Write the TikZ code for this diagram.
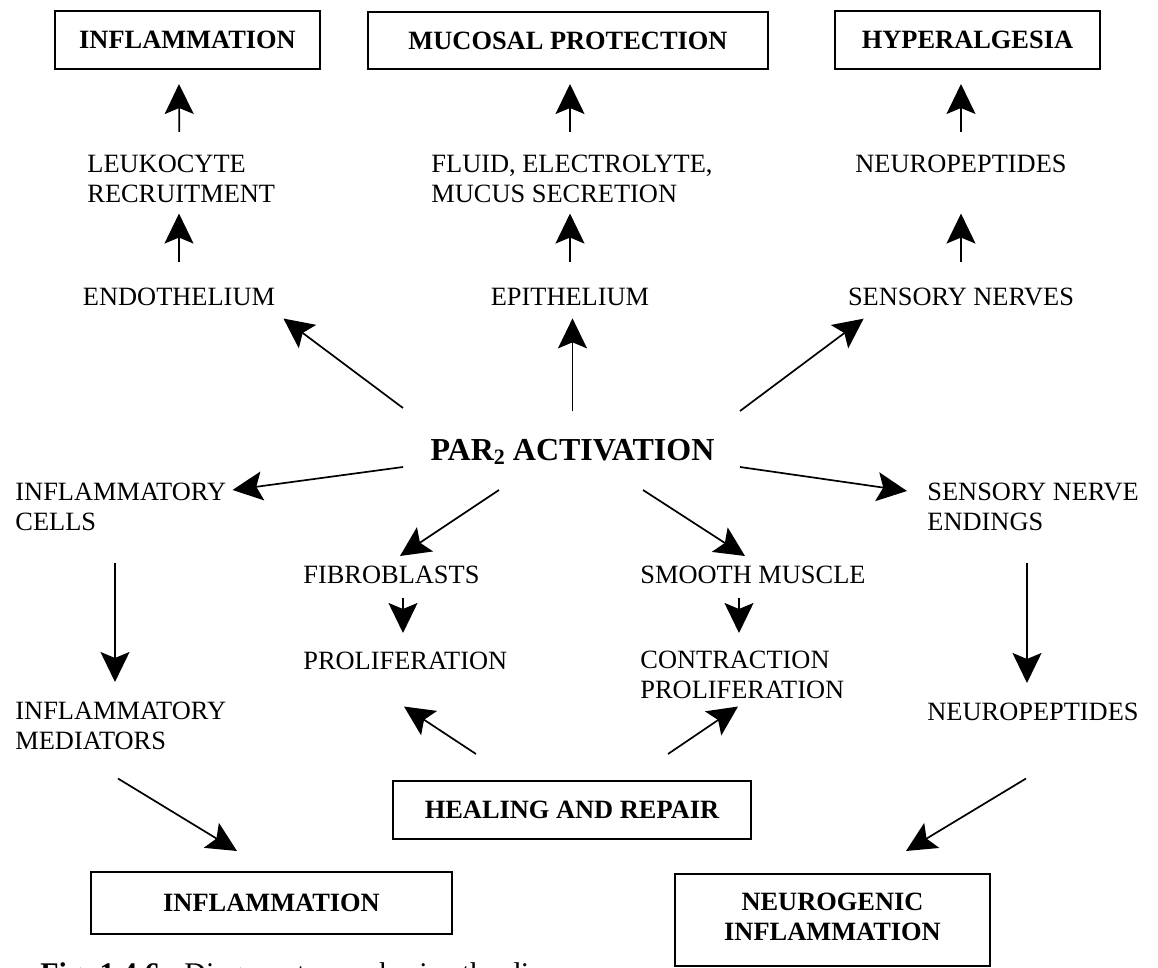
\documentclass[tikz,border=0pt]{standalone}
\usepackage{fontspec}
\setmainfont{Liberation Serif}
\usetikzlibrary{arrows.meta}
\newcommand\fsn{\fontsize{13.2pt}{15pt}\selectfont}
\newcommand\fsp{\fontsize{16pt}{18pt}\selectfont\bfseries}
\newcommand\fsc{\fontsize{15pt}{17pt}\selectfont}
\tikzset{
  lbl/.style={font=\fsn, inner sep=0pt, align=left},
  box/.style={draw, line width=1pt, font=\fsn\bfseries, inner sep=0pt, align=center},
  arr/.style={line width=0.85pt, -{Stealth[length=15pt,width=14.5pt,inset=3pt]}},
}
\begin{document}
\begin{tikzpicture}[x=0.5pt,y=-0.5pt]
\useasboundingbox (0,0) rectangle (1158,968);
\clip (0,0) rectangle (1158,968);
\fill[white] (0,0) rectangle (1158,968);

% top boxes
\node[box, minimum width=132.5pt, minimum height=29pt] (inflTop) at (187.5,40) {INFLAMMATION};
\node[box, minimum width=200pt, minimum height=28.5pt] (mucTop) at (568,40.5) {MUCOSAL PROTECTION};
\node[box, minimum width=132.5pt, minimum height=29pt] (hypTop) at (967.5,40) {HYPERALGESIA};

% second row
\node[lbl, anchor=north west] (leuk) at (87,155) {LEUKOCYTE\\RECRUITMENT};
\node[lbl, anchor=north] (fluid) at (572,155) {FLUID, ELECTROLYTE,\\MUCUS SECRETION};
\node[lbl, anchor=north] (neuroTop) at (961,155) {NEUROPEPTIDES};

% third row
\node[lbl, anchor=north] (endo) at (179,288) {ENDOTHELIUM};
\node[lbl, anchor=north] (epi) at (570,288) {EPITHELIUM};
\node[lbl, anchor=north] (sens) at (961,288) {SENSORY NERVES};

% centre
\node[lbl, font=\fsp, anchor=north] (par) at (572.5,439) {PAR\raisebox{-2pt}{\fontsize{11pt}{11pt}\selectfont 2} ACTIVATION};

% middle rows
\node[lbl, anchor=north west] (inflCells) at (15,483) {INFLAMMATORY\\CELLS};
\node[lbl, anchor=north west] (sensEnd) at (927,483) {SENSORY NERVE\\ENDINGS};
\node[lbl, anchor=north west] (fib) at (303,566) {FIBROBLASTS};
\node[lbl, anchor=north west] (smooth) at (640,566) {SMOOTH MUSCLE};
\node[lbl, anchor=north west] (prolif) at (303,652) {PROLIFERATION};
\node[lbl, anchor=north west] (contr) at (640,651) {CONTRACTION\\PROLIFERATION};
\node[lbl, anchor=north west] (inflMed) at (15,702) {INFLAMMATORY\\MEDIATORS};
\node[lbl, anchor=north west] (neuroBot) at (927,703) {NEUROPEPTIDES};

% lower boxes
\node[box, minimum width=179pt, minimum height=29pt] (heal) at (572,810) {HEALING AND REPAIR};
\node[box, minimum width=180.5pt, minimum height=31pt] (inflBot) at (271.5,903) {INFLAMMATION};
\node[box, minimum width=157.5pt, minimum height=46pt] (neurog) at (832.5,920) {};
\node[lbl, font=\fsn\bfseries, align=center, anchor=north] (neurogTxt) at (832.5,893) {NEUROGENIC\\INFLAMMATION};

% caption (cut off at bottom edge, as in the reference)
\node[lbl, font=\fsc, anchor=base west] (cap) at (40,983) {\makebox[72pt][l]{\textbf{Fig. 1.4.6}\ \ –}Diagram to emphasize the di};

% top arrows
\draw[arr] ([shift={(-2,-23)}]leuk.north) -- ([shift={(-8.5,14)}]inflTop.south);
\draw[arr] ([shift={(0,-26)}]endo.north) -- ([shift={(0,10)}]endo.north |- leuk.south);
\draw[arr] ([shift={(0,-23)}]epi.north |- fluid.north) -- ([shift={(2,14)}]mucTop.south);
\draw[arr] ([shift={(0,-26)}]epi.north) -- ([shift={(0,10)}]epi.north |- fluid.south);
\draw[arr] ([shift={(0,-23)}]neuroTop.north) -- ([shift={(-6.5,14)}]hypTop.south);
\draw[arr] ([shift={(0,-26)}]sens.north) -- ([shift={(0,40)}]neuroTop.south);

% from PAR2 upwards
\draw[arr] ([shift={(-169.5,-31)}]par.north) -- ([shift={(8,12)}]endo.south east);
\draw[arr] ([shift={(0,-28)}]par.north) -- ([shift={(0,12)}]par.north |- epi.south);
\draw[arr] ([shift={(167.5,-28)}]par.north) -- ([shift={(16,12)}]sens.south west);

% from PAR2 sideways and down
\draw[arr] ([shift={(-169.5,28)}]par.north) -- ([shift={(6,7)}]inflCells.north east);
\draw[arr] ([shift={(167.5,28)}]par.north) -- ([shift={(-20,8)}]sensEnd.north west);
\draw[arr] ([shift={(-73.5,51)}]par.north) -- ([shift={(97,-10)}]fib.north west);
\draw[arr] ([shift={(70.5,51)}]par.north) -- ([shift={(105,-10)}]smooth.north west);

% short downward arrows
\draw[arr] ([shift={(100,13)}]fib.south west) -- ([shift={(100,-19)}]prolif.north west);
\draw[arr] ([shift={(99,13)}]smooth.south west) -- ([shift={(99,-18)}]contr.north west);

% healing and repair
\draw[arr] ([shift={(-96,-26)}]heal.north) -- ([shift={(101,36)}]prolif.south west);
\draw[arr] ([shift={(96,-26)}]heal.north) -- ([shift={(98,7)}]contr.south west);

% long side arrows
\draw[arr] ([shift={(100,31)}]inflCells.south west) -- ([shift={(100,-20)}]inflMed.north west);
\draw[arr] ([shift={(100,31)}]sensEnd.south west) -- ([shift={(100,-20)}]neuroBot.north west);

% to bottom boxes
\draw[arr] ([shift={(103,28)}]inflMed.south west) -- ([shift={(147,-20)}]inflBot.north west);
\draw[arr] ([shift={(99,57)}]neuroBot.south west) -- ([shift={(-85,-22)}]neurog.north east);
\end{tikzpicture}
\end{document}
